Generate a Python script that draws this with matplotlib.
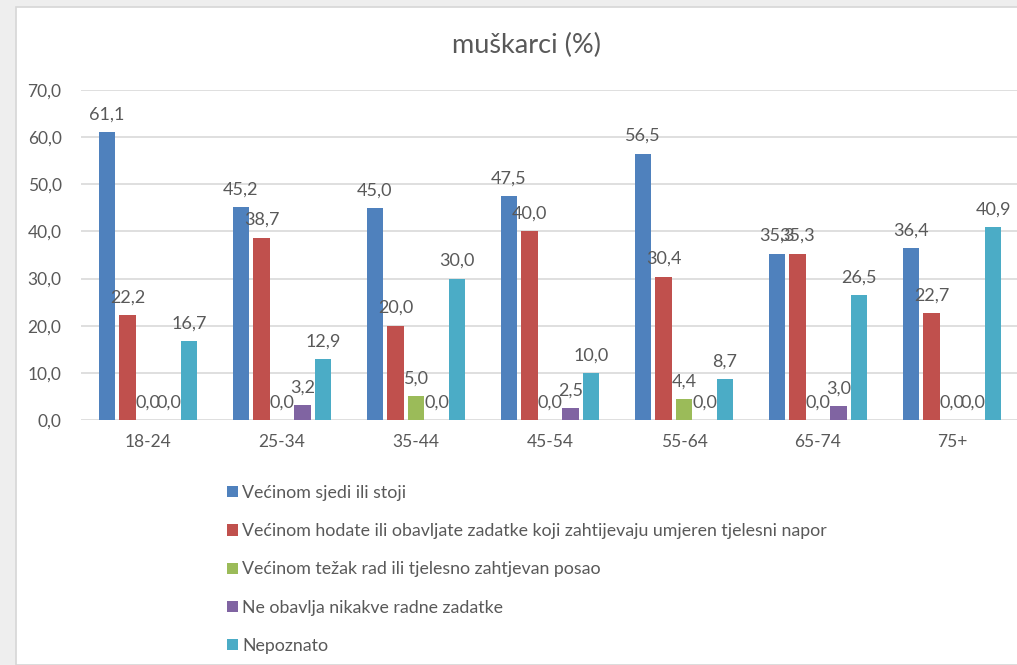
import matplotlib.pyplot as plt
import matplotlib.patches as mpatches
import numpy as np

plt.rcParams['font.family'] = ['Lato', 'DejaVu Sans']

# Podaci
kategorije = ['18-24', '25-34', '35-44', '45-54', '55-64', '65-74', '75+']
sjedi = [61.1, 45.2, 45.0, 47.5, 56.5, 35.3, 36.4]
hodate = [22.2, 38.7, 20.0, 40.0, 30.4, 35.3, 22.7]
tezak = [0.0, 0.0, 5.0, 0.0, 4.4, 0.0, 0.0]
nikakve = [0.0, 3.2, 0.0, 2.5, 0.0, 3.0, 0.0]
nepoznato = [16.7, 12.9, 30.0, 10.0, 8.7, 26.5, 40.9]
nazivi = ['Većinom sjedi ili stoji',
          'Većinom hodate ili obavljate zadatke koji zahtijevaju umjeren tjelesni napor',
          'Većinom težak rad ili tjelesno zahtjevan posao',
          'Ne obavlja nikakve radne zadatke',
          'Nepoznato']
boje = ['#4F81BD', '#C0504D', '#9BBB59', '#8064A2', '#4BACC6']
serije = [sjedi, hodate, tezak, nikakve, nepoznato]

tekst_boja = '#595959'

fig = plt.figure(figsize=(10.17, 6.65), dpi=100)
fig.patch.set_facecolor('#eeeeee')
# bijela ploča slajda
fig.patches.append(mpatches.Rectangle((16 / 1017, 0), 1.0, (665 - 7) / 665,
                                      transform=fig.transFigure, facecolor='white',
                                      edgecolor='#d6d6d6', linewidth=1.2, zorder=-5))

ax = fig.add_axes([81 / 1017, 245 / 665, 938 / 1017, 330 / 665])
ax.set_facecolor('none')

x = np.arange(len(kategorije))
korak = 0.153
sirina = 0.12
handles = []
for i, (vrijednosti, boja) in enumerate(zip(serije, boje)):
    pomak = (i - 2) * korak
    bars = ax.bar(x + pomak, vrijednosti, width=sirina, color=boja, zorder=3)
    handles.append(bars)
    for b, v in zip(bars, vrijednosti):
        ax.annotate(f'{v:.1f}'.replace('.', ','),
                    (b.get_x() + b.get_width() / 2, v),
                    xytext=(0, 7), textcoords='offset points',
                    ha='center', va='bottom', fontsize=13, color=tekst_boja, zorder=4)

ax.set_xlim(-0.5, len(kategorije) - 0.5)
ax.set_ylim(0, 70)
ax.set_yticks(np.arange(0, 71, 10))
ax.set_yticklabels([f'{t:.1f}'.replace('.', ',') for t in np.arange(0, 71, 10)])
ax.set_xticks(x)
ax.set_xticklabels(kategorije)
ax.tick_params(axis='both', length=0, labelsize=12.5, labelcolor=tekst_boja)
ax.tick_params(axis='x', pad=10)
ax.tick_params(axis='y', pad=14)
ax.grid(axis='y', color='#d9d9d9', linewidth=1.2, zorder=0)
for s in ax.spines.values():
    s.set_visible(False)

fig.text(527 / 1017, 1 - 45 / 665, 'muškarci (%)', ha='center', va='center',
         fontsize=19.5, color=tekst_boja)

fig.legend(handles, nazivi, loc='upper left', bbox_to_anchor=(227 / 1017, 1 - 485 / 665),
           frameon=False, fontsize=12.8, labelcolor=tekst_boja,
           handlelength=0.6, handleheight=0.6, handletextpad=0.25,
           labelspacing=1.25, borderaxespad=0, borderpad=0)

fig.savefig('out.png', dpi=100, facecolor=fig.get_facecolor())
